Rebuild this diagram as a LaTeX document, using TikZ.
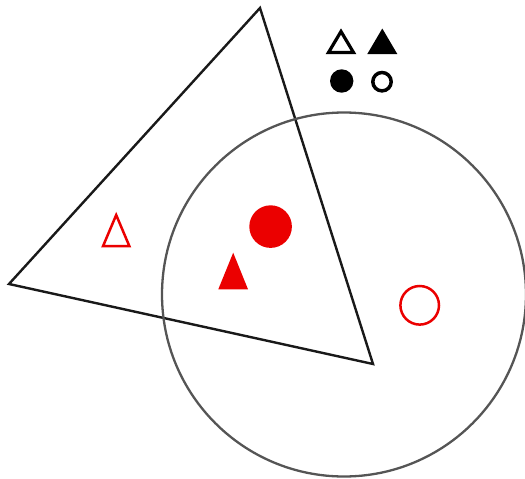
\documentclass[tikz,border=0pt]{standalone}
\begin{document}
\begin{tikzpicture}[x=1pt,y=-1pt,
  outline/.style={line width=2.4pt,line join=miter},
]
\definecolor{myred}{RGB}{235,0,0}
\definecolor{circgray}{RGB}{85,85,85}
\useasboundingbox (0,0) rectangle (525,479);
% big triangle
\draw[outline,black!90] (260,8) -- (9,284) -- (373,364) -- cycle;
% big circle
\draw[circgray,line width=2.3pt] (344,294.5) circle (182);
% legend
\draw[line width=3.2pt,line join=miter] (341,31.5) -- (328.5,52.5) -- (353.5,52.5) -- cycle;
\fill (382.3,28.5) -- (367.3,54) -- (397.3,54) -- cycle;
\fill (341.7,81) circle (11.7);
\draw[line width=3.5pt] (382,81.7) circle (9.2);
% red shapes
\draw[myred,line width=2.5pt,line join=miter] (116.2,215) -- (103,246.2) -- (129.4,246.2) -- cycle;
\fill[myred] (270.6,226.6) circle (21.3);
\fill[myred] (233.2,252.7) -- (218.3,289.3) -- (248,289.3) -- cycle;
\draw[myred,line width=2.5pt] (419.7,305.3) circle (19.3);
\end{tikzpicture}
\end{document}
